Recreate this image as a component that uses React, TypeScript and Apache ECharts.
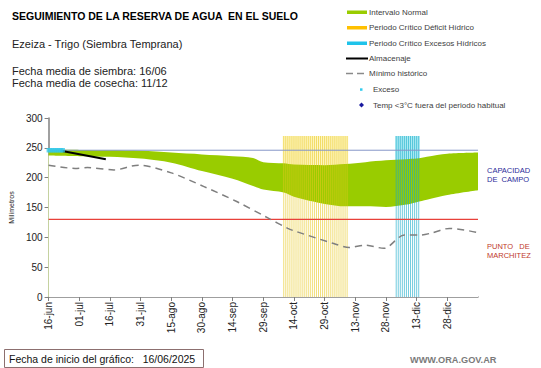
import React, { useEffect, useRef } from "react";
import * as echarts from "echarts";

// ---- data ----
const tickLabels = ["16-jun", "01-jul", "16-jul", "31-jul", "15-ago", "30-ago", "14-sep", "29-sep", "14-oct", "29-oct", "13-nov", "28-nov", "13-dic", "28-dic"];

const bandDays = [0, 15, 30, 45, 60, 75, 90, 100, 105, 115, 120, 135, 145, 155, 165, 175, 180, 185, 195, 210];
const bandTop = [247, 246.5, 246, 245, 242, 239, 236, 233, 226, 224, 222, 221, 223, 226, 229, 231, 232, 235, 240, 242];
const bandBottom = [237, 236, 235, 232, 225, 211, 198, 186, 180, 175, 168, 156, 152, 152, 151, 155, 159, 163, 171, 179];

const minDays = [0, 13, 19, 32, 44, 60, 76, 92, 107, 117, 120, 139, 147, 155, 164, 174, 182, 187, 196, 210];
const minValues = [221, 215.5, 217, 213, 221, 208, 185, 160, 133, 115, 111, 90, 83, 87, 81.5, 104, 104, 107, 115, 108];

const storageDays = [6, 28];
const storageValues = [245, 231];

const excessDays = [0, 1, 2, 3, 4, 5, 6, 7];
const excessValue = 246;

const deficitPeriod = [115, 146];
const excessPeriod = [170, 181];
const periodHeight = 270;

const fieldCapacity = 246;
const wiltingPoint = 130;
const axisRange = [0, 210];

const FONT = "Liberation Sans, Arial, sans-serif";

function daysRange(a: number, b: number) {
  const out: number[] = [];
  for (let d = a; d <= b; d++) out.push(d);
  return out;
}

export default function App() {
  const ref = useRef<HTMLDivElement>(null);
  useEffect(() => {
    if (!ref.current) return;
    const chart = echarts.init(ref.current, undefined, { renderer: "svg" });

    const topData = bandDays.map((d, i) => [d, bandTop[i]]);
    const lowerData = bandDays.map((d, i) => [d, bandBottom[i]]);
    const minData = minDays.map((d, i) => [d, minValues[i]]);
    const storData = storageDays.map((d, i) => [d, storageValues[i]]);
    const excData = excessDays.map((d) => [d, excessValue]);
    const defBars = daysRange(deficitPeriod[0], deficitPeriod[1]).map((d) => [d, periodHeight]);
    const excBars = daysRange(excessPeriod[0], excessPeriod[1]).map((d) => [d, periodHeight]);
    const fcData = axisRange.map((d) => [d, fieldCapacity]);
    const wpData = axisRange.map((d) => [d, wiltingPoint]);

    const legendY = [12, 27.5, 43, 58.5, 73.5, 89.5, 105];
    const legendText = [
      "Intervalo Normal",
      "Periodo Crítico Déficit Hídrico",
      "Periodo Crítico Excesos Hídricos",
      "Almacenaje",
      "Mínimo histórico",
      "Exceso",
      "Temp <3°C fuera del periodo habitual",
    ];

    const legendGraphics: any[] = [];
    const rectColors = ["#99cc00", "#ffc000", "#1fc3ea"];
    rectColors.forEach((c, i) => {
      legendGraphics.push({ type: "rect", shape: { x: 347, y: legendY[i] - 1.5, width: 20, height: 3.5 }, style: { fill: c } });
    });
    legendGraphics.push({ type: "line", shape: { x1: 346, y1: legendY[3], x2: 368, y2: legendY[3] }, style: { stroke: "#000", lineWidth: 2 } });
    legendGraphics.push({ type: "line", shape: { x1: 346, y1: legendY[4], x2: 368, y2: legendY[4] }, style: { stroke: "#8a8a8a", lineWidth: 1.5, lineDash: [7, 4] } });
    legendGraphics.push({ type: "rect", shape: { x: 360, y: legendY[5] - 1.2, width: 2.5, height: 2.5 }, style: { fill: "#33ccee" } });
    legendGraphics.push({ type: "polygon", shape: { points: [[361.5, legendY[6] - 2.5], [364, legendY[6]], [361.5, legendY[6] + 2.5], [359, legendY[6]]] }, style: { fill: "#1a1aa0" } });
    legendText.forEach((t, i) => {
      legendGraphics.push({
        type: "text",
        x: i >= 5 ? 373 : 369,
        y: legendY[i],
        style: { text: t, fill: "#404040", font: `8px ${FONT}`, textVerticalAlign: "middle" },
      });
    });

    const option: any = {
      animation: false,
      backgroundColor: "#fff",
      grid: { left: 33, right: 63, top: 118, bottom: 71, containLabel: false },
      xAxis: {
        type: "value",
        min: axisRange[0],
        max: axisRange[1],
        interval: 15,
        axisLine: { show: true, lineStyle: { color: "#808080", width: 1.5 } },
        axisTick: { show: true, length: 4, lineStyle: { color: "#808080" } },
        splitLine: { show: false },
        axisLabel: {
          rotate: 90,
          margin: 5,
          color: "#222",
          fontFamily: FONT,
          fontSize: 10,
          showMaxLabel: false,
          formatter: (v: number) => tickLabels[Math.round(v / 15)] ?? "",
        },
      },
      yAxis: {
        type: "value",
        min: 0,
        max: 300,
        interval: 50,
        name: "Milímetros",
        nameLocation: "middle",
        nameRotate: 90,
        nameGap: 24,
        nameTextStyle: { fontSize: 7, color: "#222", fontFamily: FONT },
        axisLine: { show: true, lineStyle: { color: "#808080", width: 1.5 } },
        axisTick: { show: true, length: 4, lineStyle: { color: "#808080" } },
        splitLine: { show: false },
        axisLabel: { color: "#222", fontFamily: FONT, fontSize: 10, margin: 6 },
      },
      series: [
        {
          type: "line",
          data: topData,
          symbol: "none",
          lineStyle: { width: 0, opacity: 0 },
          areaStyle: { color: "#99cc00", opacity: 1, origin: "start" },
          smooth: 0.3,
          z: 1,
        },
        {
          type: "line",
          data: lowerData,
          symbol: "none",
          lineStyle: { width: 0, opacity: 0 },
          areaStyle: { color: "#ffffff", opacity: 1, origin: "start" },
          smooth: 0.3,
          z: 2,
        },
        {
          type: "bar",
          data: defBars,
          barWidth: 1,
          itemStyle: { color: "rgba(232,200,30,0.6)" },
          z: 3,
          markArea: {
            silent: true,
            itemStyle: { color: "rgba(255,240,140,0.5)" },
            data: [[{ xAxis: deficitPeriod[0] - 0.5, yAxis: 0 }, { xAxis: deficitPeriod[1] + 0.5, yAxis: periodHeight }]],
          },
        },
        {
          type: "bar",
          data: excBars,
          barWidth: 1,
          barGap: "-100%",
          itemStyle: { color: "rgba(20,170,200,0.6)" },
          z: 3,
          markArea: {
            silent: true,
            itemStyle: { color: "rgba(110,220,235,0.55)" },
            data: [[{ xAxis: excessPeriod[0] - 0.5, yAxis: 0 }, { xAxis: excessPeriod[1] + 0.5, yAxis: periodHeight }]],
          },
        },
        {
          type: "line",
          data: fcData,
          symbol: "none",
          lineStyle: { color: "#8596c8", width: 1 },
          z: 4,
        },
        {
          type: "line",
          data: wpData,
          symbol: "none",
          lineStyle: { color: "#e8403a", width: 1.2 },
          z: 4,
        },
        {
          type: "line",
          data: minData,
          symbol: "none",
          smooth: 0.3,
          lineStyle: { color: "#7f7f7f", width: 1.5, type: [7, 5] },
          z: 5,
        },
        {
          type: "line",
          data: storData,
          symbol: "none",
          lineStyle: { color: "#000", width: 2 },
          z: 6,
        },
        {
          type: "scatter",
          data: excData,
          symbol: "rect",
          symbolSize: [4, 4.5],
          itemStyle: { color: "#33c8e8" },
          z: 7,
        },
      ],
      graphic: [
        { type: "text", x: 12, y: 15.5, style: { text: "SEGUIMIENTO DE LA RESERVA DE AGUA  EN EL SUELO", fill: "#000", font: `bold 10.5px ${FONT}`, textVerticalAlign: "middle" } },
        { type: "text", x: 12, y: 43.5, style: { text: "Ezeiza - Trigo (Siembra Temprana)", fill: "#222", font: `11px ${FONT}`, textVerticalAlign: "middle" } },
        { type: "text", x: 12, y: 70.5, style: { text: "Fecha media de siembra: 16/06", fill: "#222", font: `11px ${FONT}`, textVerticalAlign: "middle" } },
        { type: "text", x: 12, y: 82.5, style: { text: "Fecha media de cosecha: 11/12", fill: "#222", font: `11px ${FONT}`, textVerticalAlign: "middle" } },
        ...legendGraphics,
        { type: "text", x: 487, y: 170.5, style: { text: "CAPACIDAD", fill: "#2b2b9a", font: `7.5px ${FONT}`, textVerticalAlign: "middle" } },
        { type: "text", x: 487, y: 179.5, style: { text: "DE  CAMPO", fill: "#2b2b9a", font: `7.5px ${FONT}`, textVerticalAlign: "middle" } },
        { type: "text", x: 487, y: 246.5, style: { text: "PUNTO   DE", fill: "#c0392b", font: `7.5px ${FONT}`, textVerticalAlign: "middle" } },
        { type: "text", x: 487, y: 255.5, style: { text: "MARCHITEZ", fill: "#c0392b", font: `7.5px ${FONT}`, textVerticalAlign: "middle" } },
        { type: "rect", shape: { x: 4.5, y: 349.5, width: 199, height: 18 }, style: { fill: "#fff", stroke: "#8c6f6f", lineWidth: 1 } },
        { type: "text", x: 9, y: 358.5, style: { text: "Fecha de inicio del gráfico:   16/06/2025", fill: "#111", font: `10.5px ${FONT}`, textVerticalAlign: "middle" } },
        { type: "text", x: 410, y: 360, style: { text: "WWW.ORA.GOV.AR", fill: "#7a7a7a", font: `bold 9.2px ${FONT}`, textVerticalAlign: "middle" } },
      ],
    };
    chart.setOption(option);
    return () => chart.dispose();
  }, []);

  return (
    <div style={{ position: "fixed", left: 0, top: 0, width: 541, height: 368, background: "#fff" }}>
      <div ref={ref} style={{ width: 541, height: 368 }} />
    </div>
  );
}
